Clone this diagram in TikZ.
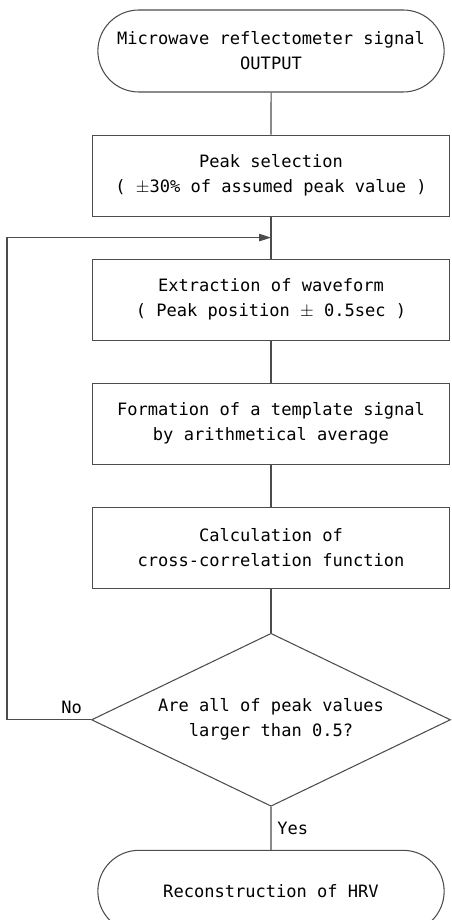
\documentclass[tikz,border=0pt]{standalone}
\usepackage{fontspec}
\setmonofont{DejaVu Sans Mono}
\usetikzlibrary{positioning,shapes.misc,shapes.geometric,arrows.meta}

\newcommand{\flowfont}{\ttfamily\fontsize{9.7}{14.2}\selectfont}

\tikzset{
  flowline/.style={draw=black!70, line width=0.6pt},
  termbox/.style={rounded rectangle, flowline, minimum width=7.16cm, minimum height=1.64cm, align=center, font=\flowfont},
  procbox/.style={rectangle, flowline, minimum width=7.14cm, minimum height=1.62cm, align=center, font=\flowfont},
  decbox/.style={diamond, flowline, aspect=2.075, minimum width=7.18cm, minimum height=3.46cm, inner sep=0pt, align=center, font=\flowfont},
}

\begin{document}
\begin{tikzpicture}[node distance=0.84cm]
        \useasboundingbox (0,0) rectangle (9.02,-18.4);

        \node[termbox] (signal) at (5.42,-1.02) {Microwave reflectometer signal\\OUTPUT};
        \node[procbox, below=of signal] (peak) {Peak selection\\( $\pm$30\% of assumed peak value )};
        \node[procbox, below=of peak] (extract) {Extraction of waveform\\( Peak position $\pm$ 0.5sec )};
        \node[procbox, below=of extract] (template) {Formation of a template signal\\by arithmetical average};
        \node[procbox, below=of template] (xcorr) {Calculation of\\cross-correlation function};
        \node[decbox, below=0.88cm of xcorr] (check) {Are all of peak values\\larger than 0.5?};
        \node[termbox, below=0.86cm of check] (hrv) {Reconstruction of HRV};

        \path (peak.south) -- coordinate[midway] (join) (extract.north);

        \draw[flowline] (signal) -- (peak);
        \draw[flowline] (peak) -- (extract);
        \draw[flowline] (extract) -- (template);
        \draw[flowline] (template) -- (xcorr);
        \draw[flowline] (xcorr) -- (check);
        \draw[flowline] (check) -- node[right, font=\flowfont] {Yes} (hrv);

        % loop back when the check fails
        \draw[flowline, -{Triangle[length=2.4mm,width=1.5mm]}] (check.west) -- node[above, pos=0.23, font=\flowfont] {No} ++(-1.68,0) |- (join);
\end{tikzpicture}
\end{document}
